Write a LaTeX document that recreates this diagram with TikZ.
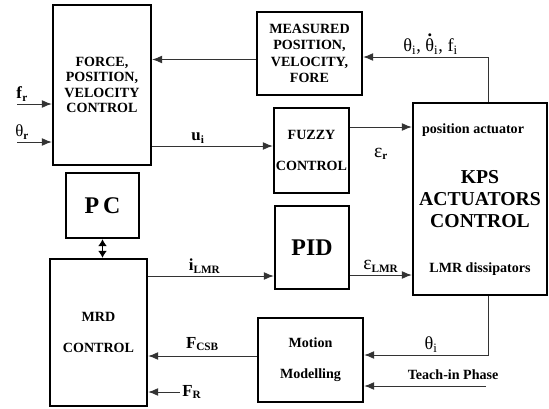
\documentclass[tikz,border=0pt]{standalone}
\usepackage{amsmath}
\usepackage{fontspec}
\setmainfont{Liberation Serif}
\usetikzlibrary{arrows.meta,calc}

\tikzset{
  box/.style={draw, line width=1.7pt, align=center, inner sep=1pt,
    font=\fontsize{10}{11}\selectfont\bfseries},
  arr/.style={-{Latex[length=7pt,width=5.5pt]}, line width=0.6pt, draw=black!80},
  dbl/.style={{Latex[length=5pt,width=6.5pt]}-{Latex[length=5pt,width=6.5pt]}, line width=1.4pt},
  lbl/.style={font=\fontsize{12}{13}\selectfont, inner sep=1.5pt},
  txt/.style={font=\fontsize{10}{11}\selectfont\bfseries, inner sep=0pt},
}
\newcommand{\eps}{{\fontsize{14}{14}\selectfont ε}}
\newcommand{\thdot}{\leavevmode\hbox{\ooalign{θ\cr\hidewidth\raisebox{0.85em}{\bfseries .}\hidewidth\cr}}}

\begin{document}
\begin{tikzpicture}[x=0.025cm,y=-0.025cm]
    \useasboundingbox (0,0) rectangle (549,409);

    % Blocks
    \node[box, minimum width=2.45cm, minimum height=4cm] (force) at (102,85)
        {FORCE,\\POSITION,\\VELOCITY\\CONTROL};
    \node[box, minimum width=1.825cm, minimum height=1.625cm,
        font=\fontsize{17}{18}\selectfont\bfseries] (pc) at (102.5,205.5) {P\,C};
    \node[box, minimum width=2.425cm, minimum height=3.675cm,
        font=\fontsize{10}{22.5}\selectfont\bfseries] (mrd) at (98.5,332.5) {MRD\\CONTROL};
    \node[box, minimum width=2.625cm, minimum height=2.075cm,
        font=\fontsize{10}{11.8}\selectfont\bfseries] (meas) at (309.5,53.5)
        {MEASURED\\POSITION,\\VELOCITY,\\FORE};
    \node[box, minimum width=1.875cm, minimum height=2.125cm, inner sep=0pt,
        font=\fontsize{10}{22}\selectfont\bfseries] (fuzzy) at (311.5,150.5) {FUZZY\\CONTROL};
    \node[box, minimum width=1.85cm, minimum height=2.075cm,
        font=\fontsize{17}{18}\selectfont\bfseries] (pid) at (312,247.5) {PID};
    \node[box, minimum width=3.35cm, minimum height=4.8cm,
        font=\fontsize{14}{15.5}\selectfont\bfseries] (kps) at (480,199)
        {KPS\\ACTUATORS\\CONTROL};
    \node[box, minimum width=2.625cm, minimum height=2.1cm,
        font=\fontsize{10}{22}\selectfont\bfseries] (motion) at (310.5,360)
        {Motion\\Modelling};

    % Texts inside the actuator block
    \node[txt, anchor=base west] (kpspos) at ($(kps.north west)+(10,32)$) {position actuator};
    \node[txt, anchor=base] (kpslmr) at ($(kps.south)+(0,-24)$) {LMR dissipators};

    % Inputs
    \coordinate (fr) at (17,104);
    \coordinate (thr) at (17,142);
    \coordinate (teach) at (486,386);
    \coordinate (fR) at (180,392);

    % Signal flow
    \draw[arr] ($(meas.west)+(0,6)$) coordinate (m1) -- (m1 -| force.east);
    \draw[arr] (fr) -- node[lbl, pos=0.15, above] {\textbf{f}\textsubscript{\textbf{r}}} (fr -| force.west);
    \draw[arr] (thr) -- node[lbl, pos=0.15, above] {θ\textsubscript{\textbf{r}}} (thr -| force.west);
    \draw[arr] ($(force.east)+(0,61)$) coordinate (u1)
        -- node[lbl, pos=0.38, above] {\textbf{u}\textsubscript{\textbf{i}}} (u1 -| fuzzy.west);
    \draw[arr] ($(fuzzy.east)+(0,-23.5)$) coordinate (e1)
        -- node[lbl, pos=0.5, below=13pt] {\eps\textsubscript{\textbf{r}}} (e1 -| kps.west);
    \draw[dbl] (pc.south) -- (pc.south |- mrd.north);
    \draw[arr] ($(mrd.east)+(0,-56.5)$) coordinate (i1)
        -- node[lbl, pos=0.45, above] {\textbf{i}\textsubscript{\textbf{LMR}}} (i1 -| pid.west);
    \draw[arr] ($(pid.east)+(0,27.5)$) coordinate (e2)
        -- node[lbl, above] {\eps\textsubscript{\textbf{LMR}}} (e2 -| kps.west);
    \draw[arr] ($(kps.north)+(8,0)$) |- node[lbl, pos=0.73, above, font=\fontsize{13}{14}\selectfont]
        {θ\textsubscript{i}, \thdot\textsubscript{i}, f\textsubscript{i}} ($(meas.east)+(0,3.5)$);
    \draw[arr] ($(kps.south)+(8,0)$) |- node[lbl, pos=0.73, above, font=\fontsize{13}{14}\selectfont]
        {θ\textsubscript{i}} ($(motion.east)+(0,-5)$);
    \draw[arr] (teach) -- node[txt, pos=0.27, above=4pt] {Teach-in Phase} (teach -| motion.east);
    \draw[arr] ($(motion.west)+(0,-4)$) coordinate (f1)
        -- node[lbl, above=2pt] {\textbf{F}\textsubscript{\textbf{CSB}}} (f1 -| mrd.east);
    \draw[arr] (fR) -- (fR -| mrd.east);
    \node[lbl, anchor=west] (fRlbl) at (fR) {\textbf{F}\textsubscript{\textbf{R}}};
\end{tikzpicture}
\end{document}
